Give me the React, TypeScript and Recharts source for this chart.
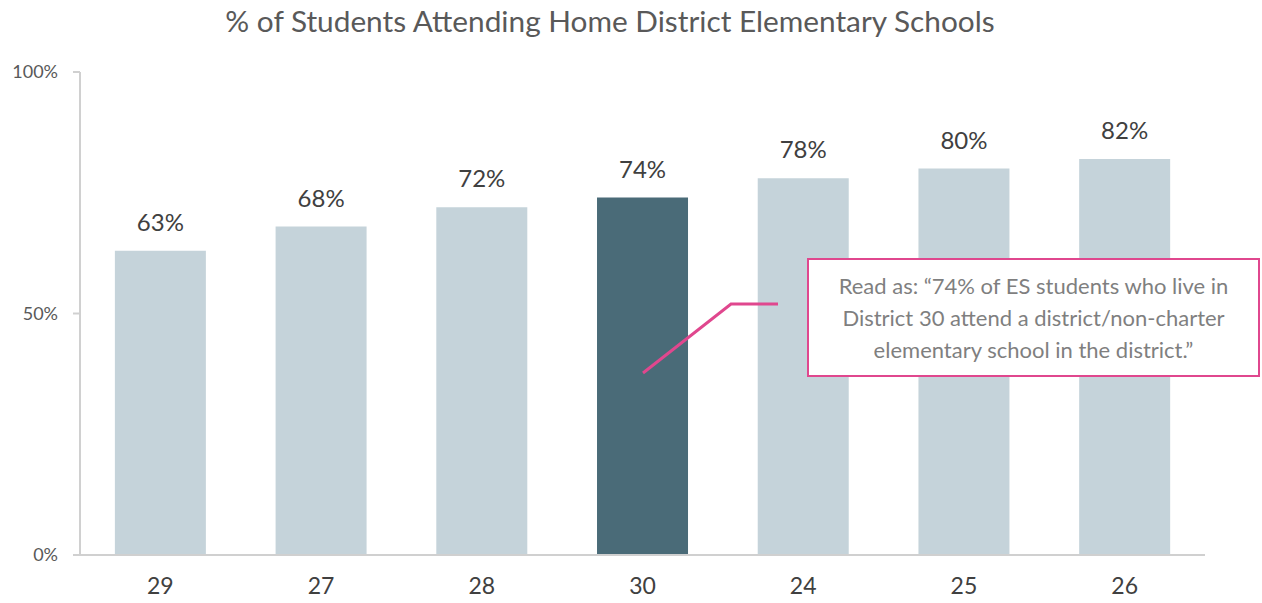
import React from "react";
import { BarChart, Bar, XAxis, YAxis, Cell, LabelList } from "recharts";

const categories = ["29", "27", "28", "30", "24", "25", "26"];
const values = [63, 68, 72, 74, 78, 80, 82];
const highlighted = "30";
const yTicks = [0, 50, 100];
const title = "% of Students Attending Home District Elementary Schools";
const calloutLines = [
  "Read as: \u201c74% of ES students who live in",
  "District 30 attend a district/non-charter",
  "elementary school in the district.\u201d",
];

const data = categories.map((c, i) => ({ district: c, value: values[i] }));

const FONT = "Lato, 'Open Sans', sans-serif";
const PINK = "#E0478E";

export default function App() {
  return (
    <div style={{ position: "absolute", left: 0, top: 0, width: 1262, height: 603, background: "#fff", fontFamily: FONT }}>
      <div
        style={{
          position: "absolute",
          left: 0,
          width: 1220,
          top: 3,
          textAlign: "center",
          fontSize: 29.8,
          color: "#595959",
          whiteSpace: "nowrap",
        }}
      >
        {title}
      </div>
      <BarChart
        width={1262}
        height={603}
        data={data}
        margin={{ top: 72, right: 57, bottom: 18, left: 0 }}
        barCategoryGap="21.7%"
      >
        <XAxis
          dataKey="district"
          height={30}
          axisLine={{ stroke: "#d0d0d0", strokeWidth: 2 }}
          tickLine={false}
          tickSize={0}
          tickMargin={23}
          tick={{ fill: "#404040", fontSize: 23, fontFamily: FONT }}
        />
        <YAxis
          width={80}
          domain={[0, 100]}
          ticks={yTicks}
          tickFormatter={(v: number) => `${v}%`}
          axisLine={{ stroke: "#d0d0d0", strokeWidth: 2 }}
          tickLine={{ stroke: "#d0d0d0", strokeWidth: 2 }}
          tickSize={7}
          tickMargin={15}
          tick={{ fill: "#595959", fontSize: 18, fontFamily: FONT }}
        />
        <Bar dataKey="value" isAnimationActive={false}>
          {data.map((d) => (
            <Cell key={d.district} fill={d.district === highlighted ? "#4A6B78" : "#C5D3DA"} />
          ))}
          <LabelList
            dataKey="value"
            position="top"
            offset={20}
            formatter={(v: number) => `${v}%`}
            style={{ fill: "#404040", fontSize: 24, fontFamily: FONT }}
          />
        </Bar>
      </BarChart>
      <svg style={{ position: "absolute", left: 0, top: 0 }} width={1262} height={603}>
        <polyline points="643,373 731,304 778,304" fill="none" stroke={PINK} strokeWidth={3} />
      </svg>
      <div
        style={{
          position: "absolute",
          left: 807,
          top: 258,
          width: 449,
          height: 115,
          border: `2px solid ${PINK}`,
          background: "#fff",
          color: "#7f7f7f",
          fontSize: 22,
          lineHeight: "32px",
          textAlign: "center",
          display: "flex",
          flexDirection: "column",
          justifyContent: "center",
        }}
      >
        {calloutLines.map((l) => (
          <div key={l} style={{ whiteSpace: "nowrap" }}>{l}</div>
        ))}
      </div>
    </div>
  );
}
